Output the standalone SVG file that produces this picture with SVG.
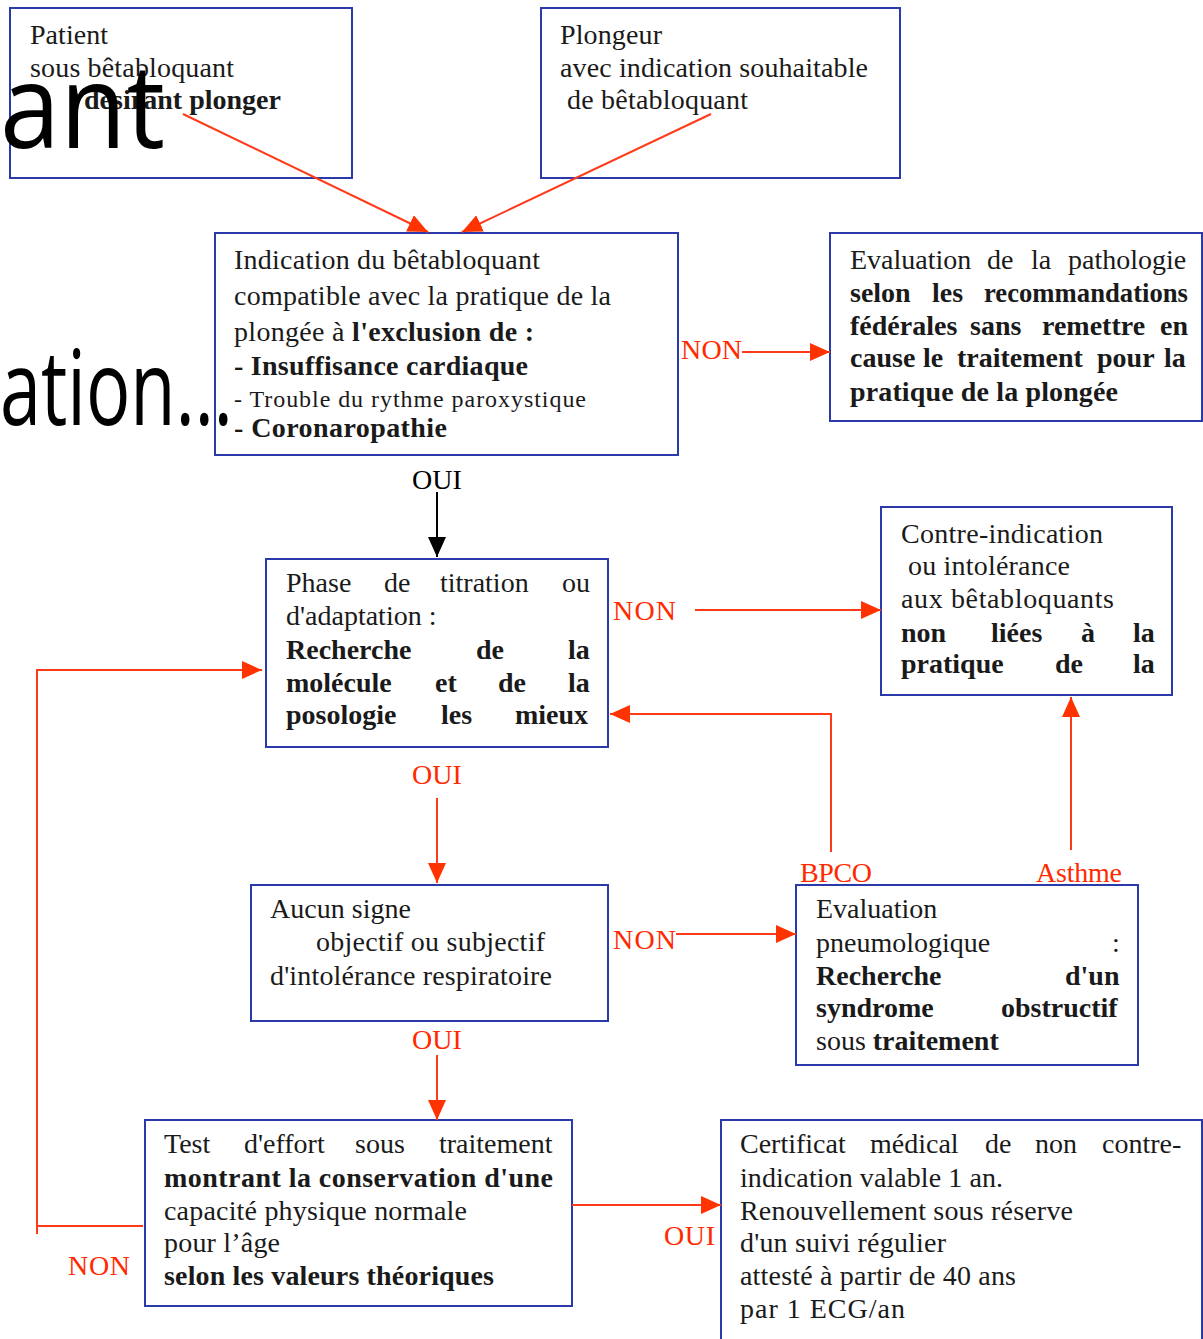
<svg xmlns="http://www.w3.org/2000/svg" width="1203" height="1339" viewBox="0 0 1203 1339">
<style>
.box{fill:#fff;stroke:#2a3aa8;stroke-width:2}
.t{font-family:"Liberation Serif",serif;font-size:28px;fill:#1a1a1a}
.s{font-size:24px}
.b{font-weight:bold}
.lbl{font-family:"Liberation Serif",serif;font-size:28px;fill:#ff2a00}
.ln{fill:none;stroke:#ff3a1a;stroke-width:2}
.big{font-family:"Open Sans",sans-serif;fill:#000}
</style>
<defs>
<marker id="ar" viewBox="0 0 20 18" refX="20" refY="9" markerWidth="20" markerHeight="18" orient="auto" markerUnits="userSpaceOnUse"><path d="M0,0 L20,9 L0,18 z" fill="#ff3300"/></marker>
<marker id="ak" viewBox="0 0 20 18" refX="20" refY="9" markerWidth="20" markerHeight="18" orient="auto" markerUnits="userSpaceOnUse"><path d="M0,0 L20,9 L0,18 z" fill="#000"/></marker>
</defs>
<g id="n1">
<rect class="box" x="10" y="8" width="342" height="170"/>
<text class="t" x="30" y="44" textLength="78">Patient</text>
<text class="t" x="30" y="77" textLength="204">sous bêtabloquant</text>
<text class="t b" x="84" y="109" textLength="197">désirant plonger</text>
</g>
<g id="n2">
<rect class="box" x="541" y="8" width="359" height="170"/>
<text class="t" x="560" y="44" textLength="102">Plongeur</text>
<text class="t" x="560" y="77" textLength="308">avec indication souhaitable</text>
<text class="t" x="567" y="109" textLength="181">de bêtabloquant</text>
</g>
<g id="n3">
<rect class="box" x="215" y="233" width="463" height="222"/>
<text class="t" x="234" y="269" textLength="306">Indication du bêtabloquant</text>
<text class="t" x="234" y="305" textLength="377">compatible avec la pratique de la</text>
<text class="t" x="234" y="341" textLength="300">plongée à <tspan class="b">l'exclusion de :</tspan></text>
<text class="t b" x="234" y="375" textLength="294">- Insuffisance cardiaque</text>
<text class="t s" x="234" y="407" textLength="352">- Trouble du rythme paroxystique</text>
<text class="t b" x="234" y="437" textLength="213">- Coronaropathie</text>
</g>
<g id="n4">
<rect class="box" x="830" y="233" width="372" height="188"/>
<text class="t" y="269"><tspan x="850">Evaluation</tspan><tspan x="987">de</tspan><tspan x="1031">la</tspan><tspan x="1068">pathologie</tspan></text>
<text class="t b" y="302"><tspan x="850">selon</tspan><tspan x="932">les</tspan></text>
<text class="t b" x="984" y="302" textLength="204" lengthAdjust="spacingAndGlyphs">recommandations</text>
<text class="t b" y="335"><tspan x="850">fédérales</tspan><tspan x="970">sans</tspan><tspan x="1042">remettre</tspan><tspan x="1160">en</tspan></text>
<text class="t b" y="367"><tspan x="850">cause</tspan><tspan x="923">le</tspan><tspan x="957">traitement</tspan><tspan x="1097">pour</tspan><tspan x="1164">la</tspan></text>
<text class="t b" x="850" y="401" textLength="268">pratique de la plongée</text>
</g>
<g id="n5">
<rect class="box" x="266" y="559" width="342" height="188"/>
<text class="t" y="592"><tspan x="286">Phase</tspan><tspan x="384">de</tspan><tspan x="440">titration</tspan><tspan x="562">ou</tspan></text>
<text class="t" x="286" y="625">d'adaptation :</text>
<text class="t b" y="659"><tspan x="286">Recherche</tspan><tspan x="476">de</tspan><tspan x="568">la</tspan></text>
<text class="t b" y="692"><tspan x="286">molécule</tspan><tspan x="435">et</tspan><tspan x="498">de</tspan><tspan x="568">la</tspan></text>
<text class="t b" y="724"><tspan x="286">posologie</tspan><tspan x="441">les</tspan><tspan x="515">mieux</tspan></text>
</g>
<g id="n6">
<rect class="box" x="881" y="507" width="291" height="188"/>
<text class="t" x="901" y="543" textLength="202">Contre-indication</text>
<text class="t" x="908" y="575" textLength="162">ou intolérance</text>
<text class="t" x="901" y="608" textLength="213">aux  bêtabloquants</text>
<text class="t b" y="642"><tspan x="901">non</tspan><tspan x="991">liées</tspan><tspan x="1081">à</tspan><tspan x="1133">la</tspan></text>
<text class="t b" y="673"><tspan x="901">pratique</tspan><tspan x="1055">de</tspan><tspan x="1133">la</tspan></text>
</g>
<g id="n7">
<rect class="box" x="251" y="885" width="357" height="136"/>
<text class="t" x="270" y="918" textLength="141">Aucun signe</text>
<text class="t" x="316" y="951" textLength="229">objectif ou subjectif</text>
<text class="t" x="270" y="985" textLength="282">d'intolérance respiratoire</text>
</g>
<g id="n8">
<rect class="box" x="796" y="885" width="342" height="180"/>
<text class="t" x="816" y="918">Evaluation</text>
<text class="t" y="952"><tspan x="816">pneumologique</tspan><tspan x="1112">:</tspan></text>
<text class="t b" y="985"><tspan x="816">Recherche</tspan><tspan x="1065">d'un</tspan></text>
<text class="t b" y="1017"><tspan x="816">syndrome</tspan><tspan x="1001">obstructif</tspan></text>
<text class="t" x="816" y="1050">sous <tspan class="b">traitement</tspan></text>
</g>
<g id="n9">
<rect class="box" x="145" y="1120" width="427" height="186"/>
<text class="t" y="1153"><tspan x="164">Test</tspan><tspan x="244">d'effort</tspan><tspan x="355">sous</tspan><tspan x="439">traitement</tspan></text>
<text class="t b" x="164" y="1187" textLength="389">montrant la conservation d'une</text>
<text class="t" x="164" y="1220" textLength="303">capacité physique normale</text>
<text class="t" x="164" y="1252" textLength="116">pour l’âge</text>
<text class="t b" x="164" y="1285" textLength="330">selon les valeurs théoriques</text>
</g>
<g id="n10">
<rect class="box" x="721" y="1120" width="481" height="230"/>
<text class="t" y="1153"><tspan x="740">Certificat</tspan><tspan x="870">médical</tspan><tspan x="985">de</tspan><tspan x="1035">non</tspan><tspan x="1102">contre-</tspan></text>
<text class="t" x="740" y="1187" textLength="263">indication valable 1 an.</text>
<text class="t" x="740" y="1220" textLength="333">Renouvellement sous réserve</text>
<text class="t" x="740" y="1252" textLength="206">d'un suivi régulier</text>
<text class="t" x="740" y="1285" textLength="276">attesté à partir de 40 ans</text>
<text class="t" x="740" y="1318" textLength="165">par  1 ECG/an</text>
</g>
<g id="connectors">
<path class="ln" d="M183,114 L428,232" marker-end="url(#ar)"/>
<path class="ln" d="M711,114 L462,232" marker-end="url(#ar)"/>
<path class="ln" d="M742,352 L830,352" marker-end="url(#ar)"/>
<path d="M437,492 L437,557" fill="none" stroke="#000" stroke-width="2" marker-end="url(#ak)"/>
<path class="ln" d="M695,610 L881,610" marker-end="url(#ar)"/>
<path class="ln" d="M831,852 L831,714 L610,714" marker-end="url(#ar)"/>
<path class="ln" d="M1071,850 L1071,697" marker-end="url(#ar)"/>
<path class="ln" d="M437,798 L437,883" marker-end="url(#ar)"/>
<path class="ln" d="M676,934 L796,934" marker-end="url(#ar)"/>
<path class="ln" d="M437,1055 L437,1120" marker-end="url(#ar)"/>
<path class="ln" d="M572,1205 L721,1205" marker-end="url(#ar)"/>
<path class="ln" d="M143,1226 L37,1226 M37,1234 L37,670 L262,670" marker-end="url(#ar)"/>
<text class="lbl" x="681" y="359" textLength="61">NON</text>
<text x="437" y="489" text-anchor="middle" font-family="Liberation Serif, serif" font-size="28" fill="#000">OUI</text>
<text class="lbl" x="613" y="620" textLength="63">NON</text>
<text class="lbl" x="437" y="784" text-anchor="middle">OUI</text>
<text class="lbl" x="800" y="882" textLength="72">BPCO</text>
<text class="lbl" x="1036" y="882" textLength="86">Asthme</text>
<text class="lbl" x="613" y="949" textLength="63">NON</text>
<text class="lbl" x="437" y="1049" text-anchor="middle">OUI</text>
<text class="lbl" x="664" y="1245" textLength="51">OUI</text>
<text class="lbl" x="68" y="1275" textLength="62">NON</text>
</g>
<g id="overlay">
<text class="big" x="0" y="148" font-size="118" textLength="165" lengthAdjust="spacingAndGlyphs">ant</text>
<text class="big" x="0" y="425" font-size="104" textLength="233" lengthAdjust="spacingAndGlyphs">ation…</text>
</g>
</svg>
